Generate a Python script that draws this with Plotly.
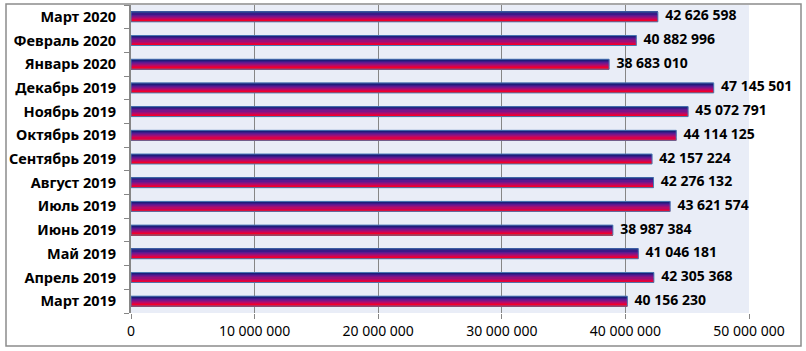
import plotly.graph_objects as go

categories = ["Март 2019", "Апрель 2019", "Май 2019", "Июнь 2019", "Июль 2019",
              "Август 2019", "Сентябрь 2019", "Октябрь 2019", "Ноябрь 2019",
              "Декабрь 2019", "Январь 2020", "Февраль 2020", "Март 2020"]
values = [40156230, 42305368, 41046181, 38987384, 43621574, 42276132, 42157224,
          44114125, 45072791, 47145501, 38683010, 40882996, 42626598]
x_ticks = [0, 10000000, 20000000, 30000000, 40000000, 50000000]

# gradient bands from bottom (red) to top (navy)
band_colors = ["#ff0000", "#f2002a", "#d8004a", "#b80a66", "#981078",
               "#7a1488", "#5c1890", "#3a1a88", "#1e1c78"]

W, H = 806, 351
ml, mr, mt, mb = 131, 57, 5, 38
pw, ph = W - ml - mr, H - mt - mb

fmt = lambda v: f"{v:,}".replace(",", " ")

fig = go.Figure()
bw = 0.42
n = len(band_colors)
for i, c in enumerate(band_colors):
    fig.add_trace(go.Bar(
        x=values, y=categories, orientation="h",
        width=bw / n + 0.004, offset=-bw / 2 + i * bw / n,
        marker=dict(color=c, line=dict(width=0)),
        hoverinfo="skip", showlegend=False))
# outline
fig.add_trace(go.Bar(
    x=values, y=categories, orientation="h", width=bw, offset=-bw / 2,
    marker=dict(color="rgba(0,0,0,0)", line=dict(color="#4a7ab5", width=1)),
    showlegend=False, hoverinfo="skip"))
# value labels
fig.add_trace(go.Scatter(
    x=values, y=categories, mode="text",
    text=["  " + fmt(v) for v in values], textposition="middle right",
    textfont=dict(family="Noto Sans", size=14, color="#000000", weight="bold"),
    cliponaxis=False, showlegend=False, hoverinfo="skip"))

fig.update_layout(
    width=W, height=H, margin=dict(l=ml, r=mr, t=mt, b=mb),
    paper_bgcolor="white", plot_bgcolor="#E9EDF7",
    barmode="overlay", separators=", ",
    font=dict(family="Noto Sans", size=14, color="#000000"),
    xaxis=dict(range=[0, 50000000], tickvals=x_ticks,
               ticktext=[fmt(v) for v in x_ticks],
               showgrid=True, gridcolor="#868686", gridwidth=1,
               ticks="outside", ticklen=5, tickcolor="#868686",
               showline=False, zeroline=False, fixedrange=True,
               tickfont=dict(size=14)),
    yaxis=dict(type="category", categoryorder="array", categoryarray=categories,
               range=[-0.5, len(categories) - 0.5],
               showgrid=False, showline=True, linecolor="#868686", linewidth=2,
               ticks="outside", tickson="boundaries", ticklen=5,
               tickcolor="#868686", ticklabelstandoff=10,
               tickfont=dict(size=14.5, weight="bold")),
    shapes=[dict(type="rect", xref="paper", yref="paper",
                 x0=(6 - ml) / pw, x1=(801 - ml) / pw,
                 y0=-(346 - (H - mb)) / ph, y1=((H - mb) - 4) / ph,
                 line=dict(color="#8c8c8c", width=1.5), layer="below")],
)

fig.write_html("out.html")
